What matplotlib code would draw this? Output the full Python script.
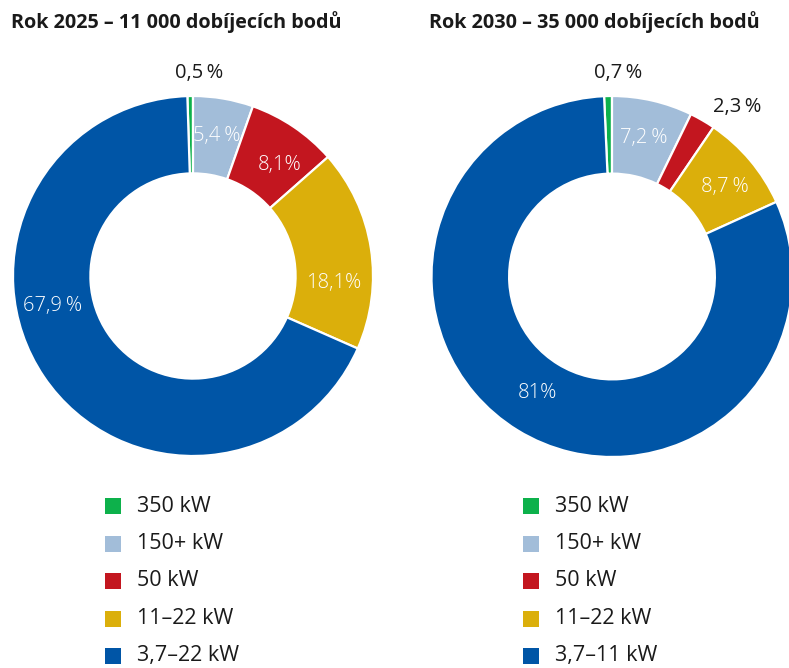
import matplotlib
matplotlib.use("Agg")
import matplotlib.pyplot as plt
import matplotlib.patches as mp
import numpy as np

# data
categories_2025 = ["350 kW", "150+ kW", "50 kW", "11–22 kW", "3,7–22 kW"]
categories_2030 = ["350 kW", "150+ kW", "50 kW", "11–22 kW", "3,7–11 kW"]
shares_2025 = [0.5, 5.4, 8.1, 18.1, 67.9]
shares_2030 = [0.7, 7.2, 2.3, 8.7, 81.0]
labels_2025 = ["0,5\u2009%", "5,4\u2009%", "8,1%", "18,1%", "67,9\u2009%"]
labels_2030 = ["0,7\u2009%", "7,2\u2009%", "2,3\u2009%", "8,7\u2009%", "81%"]
title_2025 = "Rok 2025 – 11 000 dobíjecích bodů"
title_2030 = "Rok 2030 – 35 000 dobíjecích bodů"

COLORS = ["#0DB14B", "#A2BDD9", "#C3161F", "#DBAF0B", "#0055A6"]
INK = "#1A1A1A"
FONT = ["Open Sans", "DejaVu Sans"]
W, H = 789, 668

plt.rcParams.update({"font.family": FONT, "figure.facecolor": "white"})

fig = plt.figure(figsize=(W / 100, H / 100), dpi=100)


def fx(x):
    return x / W


def fy(y):
    return 1 - y / H


def donut(cx, cy, R, shares, labels, place):
    # axes box in pixels, origin top-left
    ax = fig.add_axes([fx(cx - R), fy(cy + R), 2 * R / W, 2 * R / H])
    wedges, _ = ax.pie(shares, radius=1, startangle=90 + 3.6 * shares[0],
                       counterclock=False, colors=COLORS,
                       wedgeprops=dict(width=0.43, edgecolor="white", linewidth=1.6))
    ax.set_xlim(-1, 1)
    ax.set_ylim(-1, 1)
    ax.axis("off")
    for i, w in enumerate(wedges):
        ang = (w.theta1 + w.theta2) / 2
        r = 0.79
        ang, r = place.get(i, (ang, r))
        outside = r > 1
        a = np.deg2rad(ang)
        ax.text(r * np.cos(a), r * np.sin(a), labels[i], ha="center", va="center",
                fontsize=14.5, fontweight="normal" if outside else "light",
                color=INK if outside else "white", clip_on=False)
    return ax


def legend(x0, y0, cats):
    for i, c in enumerate(cats):
        y = y0 + i * 37.5
        fig.add_artist(mp.Rectangle((fx(x0), fy(y + 8)), 16 / W, 16 / H,
                                    transform=fig.transFigure, color=COLORS[i], lw=0))
        fig.text(fx(x0 + 32), fy(y), c, ha="left", va="center", fontsize=15.5, color=INK)


donut(193, 276, 180, shares_2025, labels_2025,
      {0: (88.3, 1.13), 2: (52, 0.78), 3: (-3, 0.78), 4: (192, 0.80)})
donut(612, 276.5, 180.5, shares_2030, labels_2030,
      {0: (88.4, 1.13), 2: (53.5, 1.17), 3: (38.3, 0.80), 4: (237.2, 0.765)})

fig.text(fx(11), fy(22), title_2025, ha="left", va="center", fontsize=14.2,
         fontweight="bold", color=INK)
fig.text(fx(429), fy(22), title_2030, ha="left", va="center", fontsize=14.2,
         fontweight="bold", color=INK)

legend(105, 506, categories_2025)
legend(523, 506, categories_2030)

fig.savefig("out.png", dpi=100, facecolor="white")
